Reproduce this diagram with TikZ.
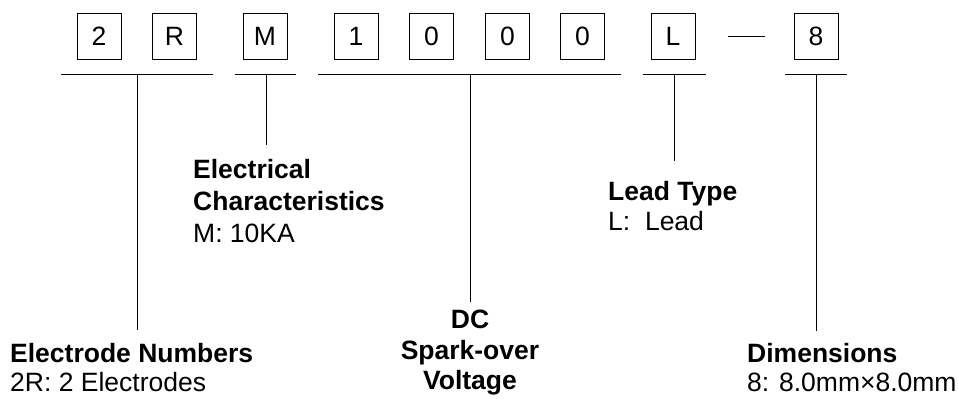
\documentclass[tikz,border=0pt]{standalone}
\usepackage{fontspec}
\setmainfont{Liberation Sans}
\begin{document}
\begin{tikzpicture}[x=1pt,y=-1pt,
  digit/.style={draw,line width=1pt,minimum width=44pt,minimum height=46pt,inner sep=0pt,font=\fontsize{26.5}{30}\selectfont},
  lab/.style={anchor=base west,inner sep=0pt,font=\fontsize{26.5}{30}\selectfont},
  labb/.style={lab,font=\fontsize{26.5}{30}\selectfont\bfseries},
  labc/.style={anchor=base,inner sep=0pt,font=\fontsize{26.5}{30}\selectfont\bfseries},
  ln/.style={line width=1pt}]
\useasboundingbox (0,0) rectangle (958,399);
% code boxes
\node[digit] (b2) at (99,36) {2};
\node[digit] (bR) at (174.5,36) {R};
\node[digit] (bM) at (265,36) {M};
\node[digit] (b1) at (356,36) {1};
\node[digit] (b0a) at (431.5,36) {0};
\node[digit] (b0b) at (507.5,36) {0};
\node[digit] (b0c) at (582.5,36) {0};
\node[digit] (bL) at (673,36) {L};
\node[digit] (b8) at (816,36) {8};
\coordinate (d1) at (728,36);
\coordinate (d2) at (765,36);
\draw[ln] (d1) -- (d2);
% bars
\coordinate (a1) at (61,74); \coordinate (a2) at (213,74); \coordinate (am) at (137,74); \coordinate (ae) at (137,330);
\coordinate (c1) at (235,74); \coordinate (c2) at (296,74); \coordinate (cm) at (266,74); \coordinate (ce) at (266,145);
\coordinate (v1) at (318,74); \coordinate (v2) at (621,74); \coordinate (vm) at (470,74); \coordinate (ve) at (470,302);
\coordinate (l1) at (643,74); \coordinate (l2) at (706,74); \coordinate (lm) at (674,74); \coordinate (le) at (674,161);
\coordinate (s1) at (785,74); \coordinate (s2) at (847,74); \coordinate (sm) at (816,74); \coordinate (se) at (816,331);
\draw[ln] (a1) -- (a2); \draw[ln] (am) -- (ae);
\draw[ln] (c1) -- (c2); \draw[ln] (cm) -- (ce);
\draw[ln] (v1) -- (v2); \draw[ln] (vm) -- (ve);
\draw[ln] (l1) -- (l2); \draw[ln] (lm) -- (le);
\draw[ln] (s1) -- (s2); \draw[ln] (sm) -- (se);
% labels
\node[labb] (en) at (10,362) {Electrode Numbers};
\node[lab] (en2) at (10,391) {2R: 2 Electrodes};
\node[labb] (ec) at (193,178) {Electrical};
\node[labb] (ec2) at (193,210) {Characteristics};
\node[lab] (ec3) at (193,242) {M: 10KA};
\node[labc] (dc) at (470,328) {DC};
\node[labc] (dc2) at (470,359) {Spark-over};
\node[labc] (dc3) at (470,389) {Voltage};
\node[labb] (lt) at (608,200) {Lead Type};
\node[lab] (lt2) at (608,230) {L:\ \ Lead};
\node[labb] (dm) at (747,362) {Dimensions};
\node[lab] (dm2) at (747,391) {8: 8.0mm×8.0mm};
\end{tikzpicture}
\end{document}
